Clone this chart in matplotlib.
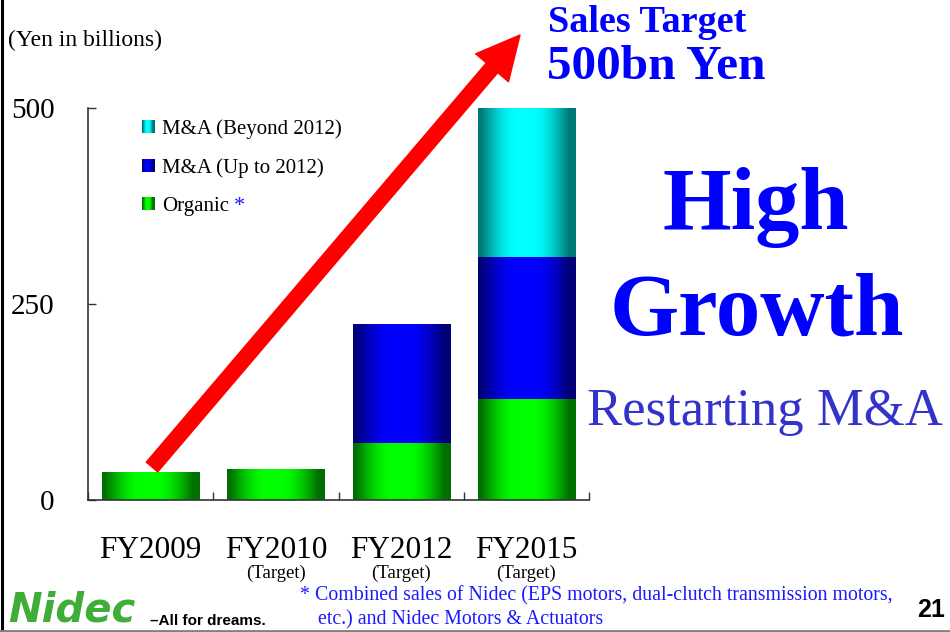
import matplotlib
matplotlib.use('Agg')
import matplotlib.pyplot as plt
import numpy as np
from matplotlib.patches import Rectangle
from matplotlib.legend_handler import HandlerBase
from matplotlib.lines import Line2D

# ---- data ----
categories = ["FY2009", "FY2010", "FY2012", "FY2015"]
sublabels = ["", "(Target)", "(Target)", "(Target)"]
organic = [36, 40, 73, 129]
ma_upto2012 = [0, 0, 152, 181]
ma_beyond2012 = [0, 0, 0, 190]
series_names = ["Organic", "M&A (Up to 2012)", "M&A (Beyond 2012)"]
yticks = [0, 250, 500]

W, H = 950, 632
SERIF = ["Liberation Serif", "DejaVu Serif"]

def fx(x):
    return x / W

def fy(y):
    return 1 - y / H

def gradient(bright, dark, n=256):
    t = np.linspace(0, 1, n)
    g = np.clip(1 - (np.abs(t - 0.48) - 0.07) / 0.38, 0, 1)
    g = np.sin(g * np.pi / 2)
    bright = np.array(bright)
    dark = np.array(dark)
    return dark[None, :] + (bright - dark)[None, :] * g[:, None]

series_vals = [organic, ma_upto2012, ma_beyond2012]
series_bright = [(0.0, 1.0, 0.0), (0.0, 0.0, 1.0), (0.0, 1.0, 1.0)]
series_dark = [(0.0, 0.44, 0.0), (0.0, 0.0, 0.47), (0.0, 0.47, 0.47)]

fig = plt.figure(figsize=(W / 100, H / 100), dpi=100)
ax = fig.add_axes([fx(88), fy(500), (589 - 88) / W, (500 - 108) / H])

x = np.arange(len(categories))
width = 0.775
bottoms = np.zeros(len(categories))
grads = []
for vals, br, dk in zip(series_vals, series_bright, series_dark):
    grad = gradient(br, dk)
    grads.append(grad)
    bars = ax.bar(x, vals, width, bottom=bottoms, color=br, edgecolor='none', zorder=2)
    for b in bars:
        if b.get_height() <= 0:
            continue
        im = ax.imshow(grad[None, :, :],
                       extent=[b.get_x(), b.get_x() + b.get_width(),
                               b.get_y(), b.get_y() + b.get_height()],
                       aspect='auto', interpolation='bilinear', zorder=2.5)
        im.set_clip_path(b)
    bottoms += np.array(vals)

ax.set_xlim(-0.5, len(categories) - 0.5)
ax.set_ylim(0, 500)
ax.set_yticks(yticks)
ax.set_yticklabels([str(v) for v in yticks], fontsize=21, family=SERIF)
ax.tick_params(axis='y', direction='in', length=6, width=1, pad=24, color='#333333')
ax.set_xticks(x)
ax.set_xticklabels(categories, fontsize=22.5, family=SERIF)
ax.tick_params(axis='x', which='major', length=0, pad=26)
ax.set_xticks(np.arange(len(categories) + 1) - 0.5, minor=True)
ax.tick_params(axis='x', which='minor', direction='in', length=6, width=1, color='#333333')
for s in ['top', 'right']:
    ax.spines[s].set_visible(False)
for s in ['left', 'bottom']:
    ax.spines[s].set_color('#333333')
    ax.spines[s].set_linewidth(1.2)

for xi, sl in zip(x, sublabels):
    if sl:
        ax.annotate(sl, xy=(xi, 0), xycoords=('data', 'axes fraction'),
                    xytext=(0, -52.5), textcoords='offset points',
                    ha='center', va='center', fontsize=13.5, family=SERIF)

# ---- legend with gradient swatches ----
class GradHandler(HandlerBase):
    def __init__(self, grad):
        super().__init__()
        self.grad = grad

    def create_artists(self, legend, orig_handle, xdescent, ydescent,
                       width, height, fontsize, trans):
        n = 12
        arts = []
        idx = np.linspace(0, len(self.grad) - 1, n).astype(int)
        for i, k in enumerate(idx):
            r = Rectangle((-xdescent + width * i / n, -ydescent), width / n + 0.3, height,
                          facecolor=self.grad[k], edgecolor='none', transform=trans)
            arts.append(r)
        return arts

handles = [Rectangle((0, 0), 1, 1) for _ in series_names]
hmap = {h: GradHandler(g) for h, g in zip(handles, grads)}
leg = ax.legend(handles[::-1], series_names[::-1], handler_map=hmap,
                loc='upper left', bbox_to_anchor=(fx(142), fy(119)),
                bbox_transform=fig.transFigure, frameon=False,
                prop={'family': SERIF, 'size': 15}, handlelength=0.6,
                handleheight=0.6, handletextpad=0.35, labelspacing=0.92,
                borderpad=0, borderaxespad=0)

# ---- arrow ----
ax.annotate('', xy=(520, H - 35), xycoords='figure pixels',
            xytext=(152, H - 467), textcoords='figure pixels',
            arrowprops=dict(arrowstyle='simple,head_length=31,head_width=31,tail_width=10.8',
                            color='#ff0000', shrinkA=0, shrinkB=0, mutation_scale=1),
            annotation_clip=False, zorder=6)

# ---- texts ----
fig.text(fx(8), fy(40), "(Yen in billions)", fontsize=17, family=SERIF, va='center', ha='left')
fig.text(fx(647), fy(23), "Sales Target", fontsize=27.5, family=SERIF, weight='bold',
         color='#0000ff', ha='center', va='center')
fig.text(fx(656), fy(67), "500bn Yen", fontsize=35.5, family=SERIF, weight='bold',
         color='#0000ff', ha='center', va='center')
fig.text(fx(756), fy(208), "High", fontsize=63.5, family=SERIF, weight='bold',
         color='#0000ff', ha='center', va='center')
fig.text(fx(757), fy(313), "Growth", fontsize=64, family=SERIF, weight='bold',
         color='#0000ff', ha='center', va='center')
fig.text(fx(765), fy(412), "Restarting M&A", fontsize=38, family=SERIF,
         color='#3333cc', ha='center', va='center')
fig.text(fx(300), fy(596), "* Combined sales of Nidec (EPS motors, dual-clutch transmission motors,",
         fontsize=14.3, family=SERIF, color='#1a1aff', ha='left', va='center')
fig.text(fx(318), fy(620), "etc.) and Nidec Motors & Actuators",
         fontsize=14.3, family=SERIF, color='#1a1aff', ha='left', va='center')
fig.text(fx(931), fy(610), "21", fontsize=18, family=["Liberation Sans", "DejaVu Sans"],
         weight='bold', ha='center', va='center')
fig.text(fx(8), fy(610), "Nidec", fontsize=29, family=["DejaVu Sans"], weight='bold',
         style='italic', color='#3fae38', ha='left', va='center')
fig.text(fx(150), fy(621), "\u2013All for dreams.", fontsize=11, family=["Liberation Sans", "DejaVu Sans"],
         weight='bold', ha='left', va='center')

# borders
fig.add_artist(Line2D([fx(1.5), fx(1.5)], [0, 1], color='black', lw=2.2))
fig.add_artist(Line2D([0, 1], [fy(630.5), fy(630.5)], color='#808080', lw=2))

# asterisk after "Organic"
fig.canvas.draw()
r = fig.canvas.get_renderer()
bb = leg.get_texts()[-1].get_window_extent(r)
fig.text((bb.x1 + 5) / W, (bb.y0 + bb.y1) / 2 / H, "*", fontsize=16, family=SERIF,
         color='#1a1aff', ha='left', va='center')

fig.savefig('out.png', dpi=100)
